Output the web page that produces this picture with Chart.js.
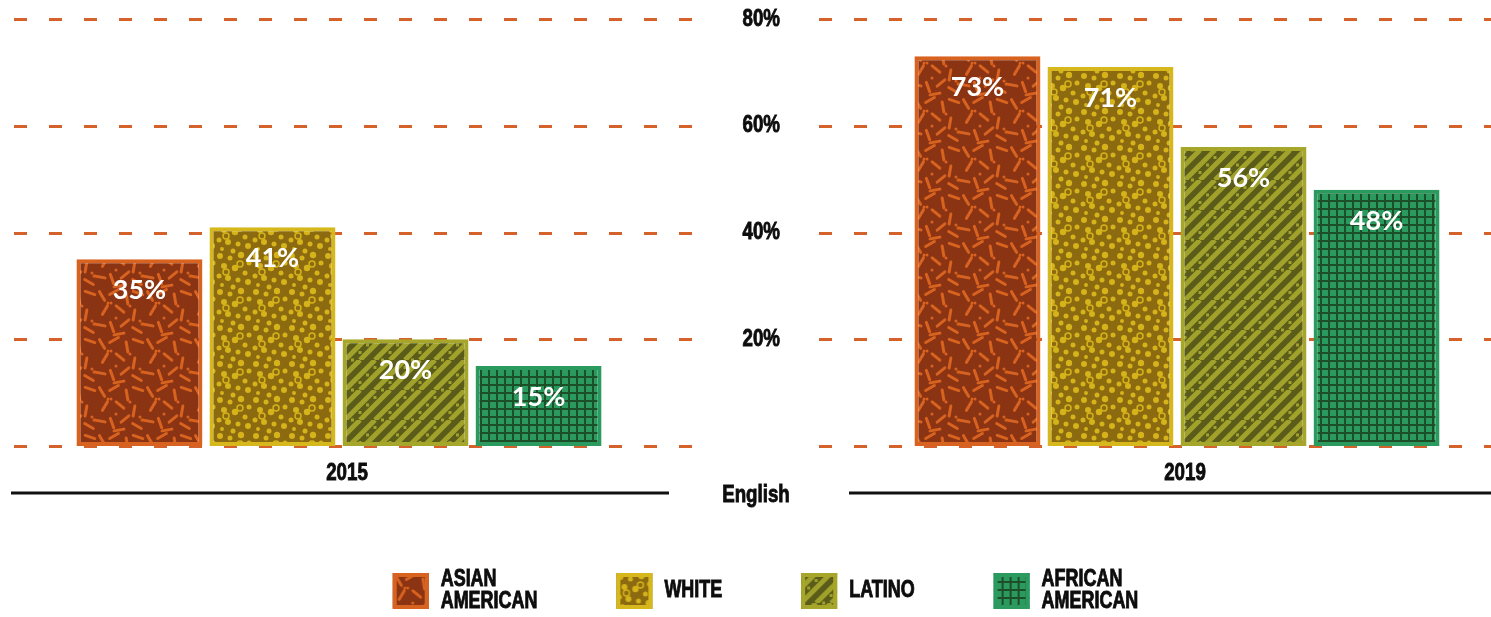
<!DOCTYPE html>
<html lang="en">
<head>
  <meta charset="UTF-8">
  <script src="https://cdn.jsdelivr.net/npm/chart.js"></script>
  <title>English</title>
  <style>
    body { margin: 0; background: #fff; }
  </style>
</head>
<body>
<canvas id="chart"></canvas>
<script>
  const groups = ['2015', 'English', '2019'];
  const seriesNames = ['Asian American', 'White', 'Latino', 'African American'];
  const asianAmerican = [35, null, 73];
  const white = [41, null, 71];
  const latino = [20, null, 56];
  const africanAmerican = [15, null, 48];
  const yTicks = [20, 40, 60, 80];
  const gridValues = [0, 20, 40, 60, 80];

  // condensed heavy text: no narrow face installed, so squeeze Liberation Sans bold
  const SQUEEZE = 0.78;
  function say(ctx, s, x, y, size, align) {
    ctx.save();
    ctx.translate(x, y);
    ctx.scale(SQUEEZE, 1);
    ctx.font = 'bold ' + size + 'px "Liberation Sans", Arial, sans-serif';
    ctx.fillStyle = '#0d0d0d';
    ctx.strokeStyle = '#0d0d0d';
    ctx.lineWidth = 0.9;
    ctx.textAlign = align;
    ctx.textBaseline = 'middle';
    ctx.fillText(s, 0, 0);
    ctx.strokeText(s, 0, 0);
    ctx.restore();
  }
  function sayWidth(ctx, s, size) {
    ctx.save();
    ctx.font = 'bold ' + size + 'px "Liberation Sans", Arial, sans-serif';
    const w = ctx.measureText(s).width * SQUEEZE;
    ctx.restore();
    return w;
  }

  // texture tiles for the bars
  function tile(size, base, draw) {
    const c = document.createElement('canvas');
    c.width = c.height = size;
    const g = c.getContext('2d');
    g.fillStyle = base;
    g.fillRect(0, 0, size, size);
    draw(g, size);
    return c;
  }
  function wrapped(g, s, fn) {
    for (const dx of [-s, 0, s]) for (const dy of [-s, 0, s]) fn(dx, dy);
  }

  const asianTile = tile(48, '#8a3414', (g, s) => {
    const segs = [[6,8,60],[18,4,-30],[31,11,80],[42,5,20],[9,22,-60],[24,21,40],[38,27,-80],[4,37,10],
                  [16,39,70],[29,35,-40],[41,42,30],[23,46,-10]];
    g.strokeStyle = '#d8621f'; g.lineWidth = 3; g.lineCap = 'round';
    segs.forEach(([x, y, a]) => wrapped(g, s, (dx, dy) => {
      const r = a * Math.PI / 180, l = 5;
      g.beginPath();
      g.moveTo(x + dx - Math.cos(r) * l, y + dy - Math.sin(r) * l);
      g.lineTo(x + dx + Math.cos(r) * l, y + dy + Math.sin(r) * l);
      g.stroke();
    }));
    g.fillStyle = '#d8621f';
    [[12,15],[15,15],[34,18],[20,30],[44,33],[46,36]].forEach(([x, y]) => wrapped(g, s, (dx, dy) => {
      g.beginPath(); g.arc(x + dx, y + dy, 1.5, 0, Math.PI * 2); g.fill();
    }));
  });

  const whiteTile = tile(36, '#8c6a10', (g, s) => {
    const dots = [[4,4,3],[14,6,2.5],[25,3,3.2],[33,11,2.5],[8,14,3],[19,16,3.2],[29,21,2.5],[3,24,2.5],
                  [12,26,3],[22,28,2.5],[32,30,3],[6,33,2],[17,35,2.5]];
    g.fillStyle = '#d5b31a';
    dots.forEach(([x, y, r]) => wrapped(g, s, (dx, dy) => {
      g.beginPath(); g.arc(x + dx, y + dy, r, 0, Math.PI * 2); g.fill();
    }));
    g.strokeStyle = '#d5b31a'; g.lineWidth = 1.5;
    [[24,12,3],[10,20,3]].forEach(([x, y, r]) => wrapped(g, s, (dx, dy) => {
      g.beginPath(); g.arc(x + dx, y + dy, r, 0, Math.PI * 2); g.stroke();
    }));
  });

  const latinoTile = tile(30, '#5b5c1a', (g, s) => {
    g.strokeStyle = '#a1a22b'; g.lineWidth = 5;
    for (const c of [0, 15, 30, 45, 60]) {
      g.beginPath(); g.moveTo(c - 30, 30); g.lineTo(c, 0); g.stroke();
    }
    g.fillStyle = '#a1a22b';
    for (let t = 0; t < 30; t += 7.5) {
      wrapped(g, s, (dx, dy) => {
        const x = t, y = 22.5 - t;
        g.fillRect(x + dx - 1.5, ((y % 30) + 30) % 30 + dy - 1.5, 3, 3);
      });
    }
  });

  const africanTile = tile(8, '#1c4f27', (g) => {
    g.fillStyle = '#2b9a5f';
    g.fillRect(2, 2, 6, 6);
  });

  const tiles = [asianTile, whiteTile, latinoTile, africanTile];
  const ctxP = document.createElement('canvas').getContext('2d');
  const fills = tiles.map(t => ctxP.createPattern(t, 'repeat'));
  const borders = ['#d8621f', '#d6b71c', '#a6a62a', '#2b9a5f'];
  const seriesData = [asianAmerican, white, latino, africanAmerican];

  const decorPlugin = {
    id: 'decor',
    beforeDatasetsDraw(chart) {
      const { ctx, scales: { x, y }, width } = chart;
      const mid = x.getPixelForValue(1);
      // dashed grid lines across the whole width, broken for the centre labels
      ctx.save();
      ctx.beginPath();
      ctx.rect(0, 0, mid - 58, chart.height);
      ctx.rect(mid + 57, 0, width, chart.height);
      ctx.clip();
      ctx.strokeStyle = '#d4622a';
      ctx.lineWidth = 3;
      ctx.setLineDash([13, 22]);
      gridValues.forEach(v => {
        const py = Math.round(y.getPixelForValue(v)) + 0.5;
        ctx.beginPath(); ctx.moveTo(14, py); ctx.lineTo(width, py); ctx.stroke();
      });
      ctx.restore();
      yTicks.forEach(v => say(ctx, v + '%', mid + 22, y.getPixelForValue(v), 24, 'right'));
    },
    afterDatasetsDraw(chart) {
      const { ctx, scales: { x }, chartArea, width } = chart;
      // value labels
      ctx.save();
      ctx.fillStyle = '#fff';
      ctx.font = 'bold 27px Lato, "Open Sans", sans-serif';
      ctx.textAlign = 'center';
      ctx.textBaseline = 'middle';
      chart.data.datasets.forEach((ds, i) => {
        chart.getDatasetMeta(i).data.forEach((bar, j) => {
          if (ds.data[j] == null) return;
          ctx.fillText(ds.data[j] + '%', bar.x, bar.y + 31);
        });
      });
      ctx.restore();

      // group labels and base lines
      const b = chartArea.bottom;
      ctx.save();
      ctx.strokeStyle = '#111';
      ctx.lineWidth = 3;
      [0, 2].forEach(i => {
        const cx = x.getPixelForValue(i);
        ctx.beginPath(); ctx.moveTo(cx - 328, b + 47); ctx.lineTo(cx + 330, b + 47); ctx.stroke();
        say(ctx, groups[i], cx + 8, b + 27, 24, 'center');
      });
      ctx.restore();
      say(ctx, groups[1], x.getPixelForValue(1) - 2, b + 49, 24, 'center');

      // legend
      const size = 23, box = 36, gap = 79;
      const items = seriesNames.map(n => {
        const lines = n.toUpperCase().split(' ');
        const lw = Math.max(...lines.map(l => sayWidth(ctx, l, size)));
        return { lines, w: box + 12 + lw };
      });
      const total = items.reduce((s, it) => s + it.w, 0) + gap * (items.length - 1);
      let lx = width / 2 + 20 - total / 2;
      const cy = b + 145;
      items.forEach((it, i) => {
        ctx.save();
        ctx.translate(lx, cy - box / 2);
        ctx.fillStyle = fills[i];
        ctx.fillRect(0, 0, box, box);
        ctx.strokeStyle = borders[i];
        ctx.lineWidth = 4;
        ctx.strokeRect(2, 2, box - 4, box - 4);
        ctx.restore();
        it.lines.forEach((l, k) => {
          const ty = cy + (k - (it.lines.length - 1) / 2) * 22;
          say(ctx, l, lx + box + 12, ty, size, 'left');
        });
        lx += it.w + gap;
      });
    }
  };

  const canvas = document.getElementById('chart');
  canvas.width = 1491;
  canvas.height = 617;

  new Chart(canvas, {
    type: 'bar',
    data: {
      labels: groups,
      datasets: seriesNames.map((name, i) => ({
        label: name,
        data: seriesData[i],
        backgroundColor: fills[i],
        borderColor: borders[i],
        borderWidth: 4,
        borderSkipped: false,
        categoryPercentage: 1.27,
        barPercentage: 0.947,
        clip: false
      }))
    },
    options: {
      responsive: false,
      animation: false,
      layout: { padding: { left: 129.5, right: 104.5, top: 19, bottom: 171 } },
      plugins: { legend: { display: false }, tooltip: { enabled: false } },
      scales: {
        x: { display: false },
        y: { display: false, min: 0, max: 80 }
      }
    },
    plugins: [decorPlugin]
  });
</script>
</body>
</html>
